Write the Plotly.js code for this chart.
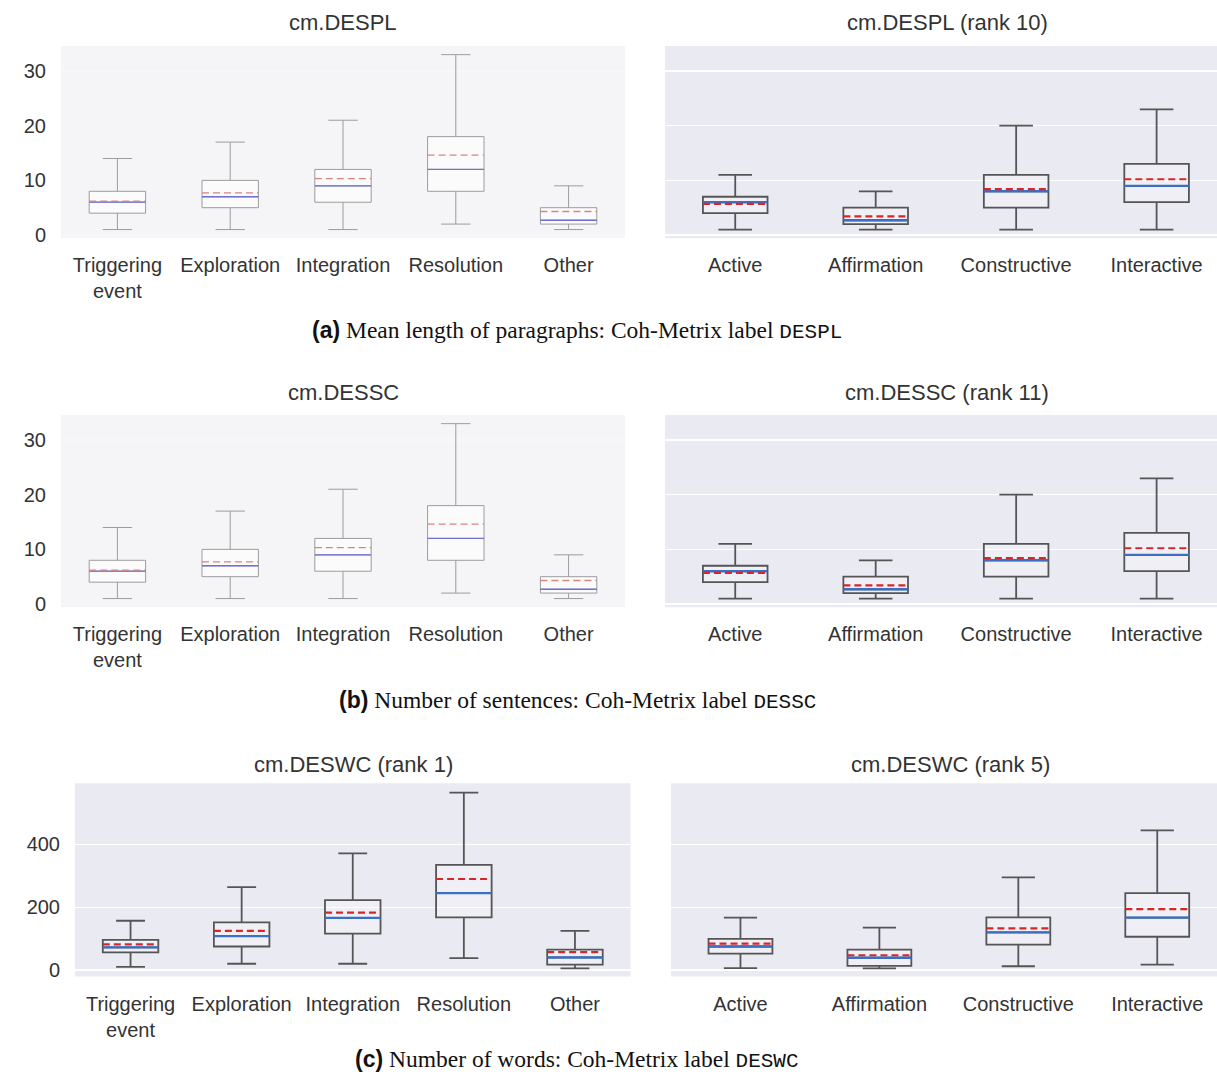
<!DOCTYPE html>
<html><head><meta charset="utf-8">
<script src="https://cdn.plot.ly/plotly-3.0.1.min.js"></script>
<style>html,body{margin:0;padding:0;background:#fff;} #chart{width:1217px;height:1078px;}</style>
</head><body><div id="chart"></div>
<script>
// ---------- categories ----------
const phaseCats = ["Triggering<br>event", "Exploration", "Integration", "Resolution", "Other"];
const icapCats = ["Active", "Affirmation", "Constructive", "Interactive"];

// ---------- cm.DESPL (phase) ----------
const desplPhaseLower  = [1, 1, 1, 2, 1];
const desplPhaseQ1     = [4, 5, 6, 8, 2];
const desplPhaseMedian = [6, 7, 9, 12, 2.7];
const desplPhaseQ3     = [8, 10, 12, 18, 5];
const desplPhaseUpper  = [14, 17, 21, 33, 9];
const desplPhaseMean   = [6.2, 7.7, 10.3, 14.6, 4.3];

// ---------- cm.DESPL (rank 10, ICAP) ----------
const desplIcapLower  = [1, 1, 1, 1];
const desplIcapQ1     = [4, 2, 5, 6];
const desplIcapMedian = [6, 2.7, 8, 9];
const desplIcapQ3     = [7, 5, 11, 13];
const desplIcapUpper  = [11, 8, 20, 23];
const desplIcapMean   = [5.7, 3.4, 8.4, 10.2];

// ---------- cm.DESSC (phase) ----------
const dessPhaseLower   = [1, 1, 1, 2, 1];
const dessPhaseQ1      = [4, 5, 6, 8, 2];
const dessPhaseMedian  = [6, 7, 9, 12, 2.7];
const dessPhaseQ3      = [8, 10, 12, 18, 5];
const dessPhaseUpper   = [14, 17, 21, 33, 9];
const dessPhaseMean    = [6.2, 7.7, 10.3, 14.6, 4.3];

// ---------- cm.DESSC (rank 11, ICAP) ----------
const dessIcapLower  = [1, 1, 1, 1];
const dessIcapQ1     = [4, 2, 5, 6];
const dessIcapMedian = [6, 2.7, 8, 9];
const dessIcapQ3     = [7, 5, 11, 13];
const dessIcapUpper  = [11, 8, 20, 23];
const dessIcapMean   = [5.7, 3.4, 8.4, 10.2];

// ---------- cm.DESWC (rank 1, phase) ----------
const deswcPhaseLower  = [10, 20, 20, 38, 5];
const deswcPhaseQ1     = [56, 75, 116, 168, 17];
const deswcPhaseMedian = [72, 108, 166, 245, 40];
const deswcPhaseQ3     = [96, 152, 223, 335, 65];
const deswcPhaseUpper  = [157, 264, 372, 565, 125];
const deswcPhaseMean   = [82, 125, 183, 290, 57];

// ---------- cm.DESWC (rank 5, ICAP) ----------
const deswcIcapLower  = [6, 5, 12, 17];
const deswcIcapQ1     = [52, 13, 81, 106];
const deswcIcapMedian = [75, 39, 120, 167];
const deswcIcapQ3     = [99, 65, 168, 245];
const deswcIcapUpper  = [167, 135, 295, 445];
const deswcIcapMean   = [84, 47, 133, 194];

// ---------- tick values ----------
const smallTicks = [0, 10, 20, 30];
const wordTicks = [0, 200, 400];

// ---------- styles ----------
const dark = {bg:'#eaeaf2', grid:'#ffffff', fill:'rgba(255,255,255,0.25)', line:'#555555', lw:1.8,
              med:'#3b6fc4', medW:2.4, mean:'#d62728', meanW:2.2, dash:'7px,4px'};
const faded = {bg:'#f5f5f8', grid:'#f7f7fa', fill:'rgba(255,255,255,0.6)', line:'#9c9c9c', lw:1,
               med:'#6f6fd4', medW:1.3, mean:'#d98282', meanW:1.3, dash:'7px,4px'};

function panel(cats, lo, q1, med, q3, hi, mean, xa, ya, st, w) {
  const idx = cats.map((c, i) => i);
  const traces = [];
  traces.push({
    type:'box', x: idx, q1: q1, median: med, q3: q3, lowerfence: lo, upperfence: hi,
    width: w, whiskerwidth: 0.52, boxpoints: false, fillcolor: st.fill,
    line: {color: st.line, width: st.lw}, xaxis: xa, yaxis: ya, showlegend: false, hoverinfo: 'skip'
  });
  const mx = [], my = [], ax = [], ay = [];
  idx.forEach(i => {
    mx.push(i - w/2, i + w/2, null); my.push(med[i], med[i], null);
    ax.push(i - w/2, i + w/2, null); ay.push(mean[i], mean[i], null);
  });
  traces.push({type:'scatter', mode:'lines', x: mx, y: my, xaxis: xa, yaxis: ya, showlegend:false,
    hoverinfo:'skip', line:{color: st.med, width: st.medW}});
  traces.push({type:'scatter', mode:'lines', x: ax, y: ay, xaxis: xa, yaxis: ya, showlegend:false,
    hoverinfo:'skip', line:{color: st.mean, width: st.meanW, dash: st.dash}});
  return traces;
}

const data = [].concat(
  panel(phaseCats, desplPhaseLower, desplPhaseQ1, desplPhaseMedian, desplPhaseQ3, desplPhaseUpper, desplPhaseMean, 'x', 'y', faded, 0.5),
  panel(icapCats, desplIcapLower, desplIcapQ1, desplIcapMedian, desplIcapQ3, desplIcapUpper, desplIcapMean, 'x2', 'y2', dark, 0.46),
  panel(phaseCats, dessPhaseLower, dessPhaseQ1, dessPhaseMedian, dessPhaseQ3, dessPhaseUpper, dessPhaseMean, 'x3', 'y3', faded, 0.5),
  panel(icapCats, dessIcapLower, dessIcapQ1, dessIcapMedian, dessIcapQ3, dessIcapUpper, dessIcapMean, 'x4', 'y4', dark, 0.46),
  panel(phaseCats, deswcPhaseLower, deswcPhaseQ1, deswcPhaseMedian, deswcPhaseQ3, deswcPhaseUpper, deswcPhaseMean, 'x5', 'y5', dark, 0.5),
  panel(icapCats, deswcIcapLower, deswcIcapQ1, deswcIcapMedian, deswcIcapQ3, deswcIcapUpper, deswcIcapMean, 'x6', 'y6', dark, 0.46)
);

const W = 1217, H = 1078;
const px = v => v / W;
const py = v => 1 - v / H;
const tickFont = {family:'Liberation Sans, Arial, sans-serif', size:20, color:'#333333'};

function xAxis(cats, x0, x1, hiRange, anchor) {
  return {domain:[px(x0), px(x1)], range:[-0.5, hiRange], anchor: anchor,
    tickmode:'array', tickvals: cats.map((c, i) => i), ticktext: cats,
    showgrid:false, zeroline:false, showline:false, ticks:'', tickfont: tickFont,
    ticklabelstandoff: 13, fixedrange:true};
}
function yAxis(top, bottom, range, tickvals, showLabels, st, anchor) {
  return {domain:[py(bottom), py(top)], range: range, anchor: anchor,
    tickmode:'array', tickvals: tickvals, ticktext: tickvals.map(String), showticklabels: showLabels,
    showgrid:true, gridcolor: st.grid, gridwidth: 1.5, zeroline:false, showline:false, ticks:'',
    tickfont: tickFont, ticklabelstandoff: 14, fixedrange:true};
}

const smallRange = [-0.6, 34.6];
const wordRange = [-21, 595];

const layout = {
  width: W, height: H, margin:{l:0, r:0, t:0, b:0}, paper_bgcolor:'#ffffff', showlegend:false,
  font:{family:'Liberation Sans, Arial, sans-serif', color:'#333333'},
  xaxis:  xAxis(phaseCats, 61, 625, 4.5, 'y'),
  xaxis2: xAxis(icapCats, 665, 1217, 3.43, 'y2'),
  xaxis3: xAxis(phaseCats, 61, 625, 4.5, 'y3'),
  xaxis4: xAxis(icapCats, 665, 1217, 3.43, 'y4'),
  xaxis5: xAxis(phaseCats, 75, 630.5, 4.5, 'y5'),
  xaxis6: xAxis(icapCats, 671, 1217, 3.43, 'y6'),
  yaxis:  yAxis(45.9, 238.3, smallRange, smallTicks, true, faded, 'x'),
  yaxis2: yAxis(45.9, 238.3, smallRange, smallTicks, false, dark, 'x2'),
  yaxis3: yAxis(414.9, 607.3, smallRange, smallTicks, true, faded, 'x3'),
  yaxis4: yAxis(414.9, 607.3, smallRange, smallTicks, false, dark, 'x4'),
  yaxis5: yAxis(783.3, 976.6, wordRange, wordTicks, true, dark, 'x5'),
  yaxis6: yAxis(783.3, 976.6, wordRange, wordTicks, false, dark, 'x6'),
  shapes: [],
  annotations: []
};

// plot backgrounds
const bgs = [
  ['x','y',faded],['x2','y2',dark],['x3','y3',faded],['x4','y4',dark],['x5','y5',dark],['x6','y6',dark]
];
bgs.forEach(([xa, ya, st]) => {
  layout.shapes.push({type:'rect', xref: xa + ' domain', yref: ya + ' domain', x0:0, x1:1, y0:0, y1:1,
    fillcolor: st.bg, line:{width:0}, layer:'below'});
});

// panel titles
const titleFont = {family:'Liberation Sans, Arial, sans-serif', size:22, color:'#333333'};
const titles = [
  ['cm.DESPL', 343, 23], ['cm.DESPL (rank 10)', 947, 23],
  ['cm.DESSC', 343, 392], ['cm.DESSC (rank 11)', 947, 392],
  ['cm.DESWC (rank 1)', 353, 764], ['cm.DESWC (rank 5)', 950, 764]
];
titles.forEach(([t, x, y]) => layout.annotations.push({text: t, x: px(x), y: py(y), xref:'paper', yref:'paper',
  xanchor:'center', yanchor:'middle', showarrow:false, font: titleFont}));

// captions
const captions = [
  ['(a)', 'Mean length of paragraphs: Coh-Metrix label ', 'DESPL', 331],
  ['(b)', 'Number of sentences: Coh-Metrix label ', 'DESSC', 700],
  ['(c)', 'Number of words: Coh-Metrix label ', 'DESWC', 1059]
];
captions.forEach(([tag, body, code, y]) => layout.annotations.push({
  text: '<span style="font-family:Liberation Sans, Arial, sans-serif;font-size:23px"><b>' + tag + '</b></span> ' + body +
        '<span style="font-family:Liberation Mono, DejaVu Sans Mono, monospace;font-size:21px">' + code + '</span>',
  x: px(577), y: py(y), xref:'paper', yref:'paper', xanchor:'center', yanchor:'middle', showarrow:false,
  font:{family:'Liberation Serif, Times New Roman, serif', size:23.5, color:'#111111'}}));

Plotly.newPlot('chart', data, layout, {displayModeBar:false, staticPlot:true});
</script>
</body></html>
